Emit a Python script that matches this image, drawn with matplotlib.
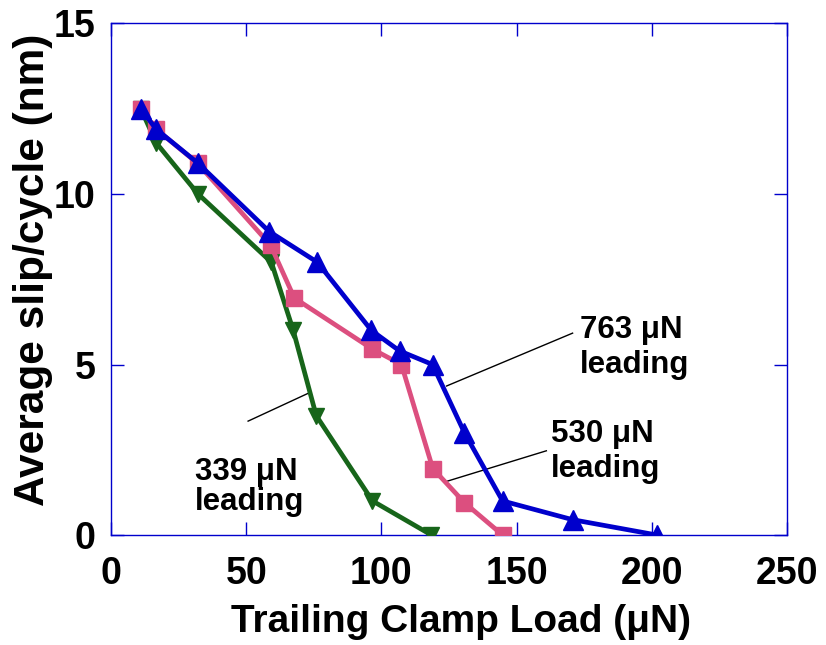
import numpy as np
import matplotlib
matplotlib.use("Agg")
import matplotlib.pyplot as plt

# trailing clamp load (uN) vs average slip per cycle (nm), one series per leading load
load_339 = [11, 16.7, 32.2, 59.3, 67.4, 75.9, 96.7, 118.5]
slip_339 = [12.5, 11.5, 10.0, 8.0, 6.0, 3.5, 1.0, 0.0]

load_530 = [11, 16.7, 32, 59, 67.8, 96.7, 107.4, 119, 130.7, 144.8]
slip_530 = [12.5, 11.9, 10.9, 8.5, 6.95, 5.45, 5.0, 1.95, 0.95, 0.0]

load_763 = [11, 16.7, 32.2, 58.5, 76.3, 96.3, 106.7, 118.9, 130.7, 144.8, 170.7, 201.9]
slip_763 = [12.5, 11.9, 10.9, 8.9, 8.0, 6.0, 5.4, 5.0, 3.0, 1.0, 0.45, 0.0]

x_ticks = [0, 50, 100, 150, 200, 250]
y_ticks = [0, 5, 10, 15]

plt.rcParams['font.family'] = ['Liberation Sans', 'DejaVu Sans']
plt.rcParams['font.weight'] = 'bold'

fig = plt.figure(figsize=(8.26, 6.45), dpi=100)
ax = fig.add_axes([0.1344, 0.1705, 0.8184, 0.7931])

ax.plot(load_339, slip_339, color='#17651a', lw=3.4, marker='v', ms=11, zorder=3)
ax.plot(load_530, slip_530, color='#dc4f7f', lw=3.4, marker='s', ms=11.5, zorder=4)
ax.plot(load_763, slip_763, color='#0000cc', lw=3.4, marker='^', ms=14.5, zorder=5)

ax.set_xlim(0, 250)
ax.set_ylim(0, 15)
ax.set_xticks(x_ticks)
ax.set_yticks(y_ticks)
ax.tick_params(direction='in', length=9.5, width=1, color='#0000cc',
               top=True, right=True, labelsize=27)
ax.tick_params(axis='x', pad=15)
ax.tick_params(axis='y', pad=11)
for lab in ax.get_xticklabels() + ax.get_yticklabels():
    lab.set_fontweight('bold')
for sp in ax.spines.values():
    sp.set_color('#0000cc')
    sp.set_linewidth(1)

fig.text(0.558, 0.0364, 'Trailing Clamp Load (μN)', fontsize=28, fontweight='bold',
         ha='center', va='center')
fig.text(0.040, 0.581, 'Average slip/cycle (nm)', fontsize=30.5, fontweight='bold',
         ha='center', va='center', rotation=90)

# leader lines and two-line labels for each series
labels = [
    ('763 μN', [124.1, 170.7], [4.37, 5.92], 173.3, 5.78, 4.75),
    ('530 μN', [124.4, 161.0], [1.58, 2.47], 162.8, 2.74, 1.71),
    ('339 μN', [50.7, 73.3], [3.34, 4.17], 31.1, 1.61, 0.73),
]
for name, lx, ly, tx, y1, y2 in labels:
    ax.plot(lx, ly, color='black', lw=1, zorder=2)
    ax.text(tx, y1, name, fontsize=22.5, fontweight='bold', ha='left', va='baseline')
    ax.text(tx, y2, 'leading', fontsize=22.5, fontweight='bold', ha='left', va='baseline')

fig.savefig('out.png', dpi=100)
